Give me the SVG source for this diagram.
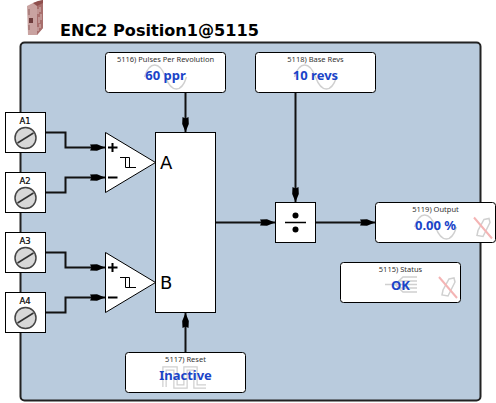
<svg xmlns="http://www.w3.org/2000/svg" width="496" height="403" viewBox="0 0 496 403">
<style>
.box{fill:#fff;stroke:#000;stroke-width:1}
.lbl{font-family:"Noto Sans",sans-serif;font-size:7.5px;fill:#333;text-anchor:middle}
.val{font-family:"Noto Sans",sans-serif;font-size:13px;font-weight:bold;fill:#1a44c8;text-anchor:middle}
.term{font-family:"DejaVu Sans",sans-serif;font-size:8.5px;fill:#000;stroke:#000;stroke-width:.2;text-anchor:middle}
.port{font-family:"DejaVu Sans",sans-serif;font-size:18px;fill:#000}
.wire{fill:none;stroke:#111;stroke-width:2}
.wm{fill:none;stroke:#d0d0d0;stroke-width:1.5}
.red{fill:none;stroke:#f4b4b4;stroke-width:2}
.scr{fill:#d8d8d8;stroke:#444;stroke-width:1.5}
.sym{fill:none;stroke:#000;stroke-width:1}
.sgn{fill:none;stroke:#000;stroke-width:2}
</style>
<defs>
<marker id="arr" markerUnits="userSpaceOnUse" markerWidth="16" markerHeight="9" refX="15" refY="4.5" orient="auto">
<path d="M0 1.500L7 1.200L15 4.500L7 7.800L0 7.500L1.500 4.500Z" fill="#000"/>
</marker>
<g id="sine"><path class="wm" d="M-21 0C-16 -16 -6 -16 0 0C6 16 16 16 21 0"/></g>
<g id="pen"><path class="wm" d="M1 -8L6 -9L7 -5L0 9L-6 8L-5 3Z"/><path class="red" d="M-9 -10L9 11"/></g>
<g id="screw"><circle r="10.5" class="scr"/><path d="M-8 5L8 -5" stroke="#333" stroke-width="1.5"/></g>
</defs>
<rect width="496" height="403" fill="#fff"/>
<g id="header">
<path d="M27 6L33 3L43 0V28L37 35H28Z" fill="#c9a3a1"/>
<path d="M37 4L43 0V28L37 35Z" fill="#a86f6d"/>
<path d="M33 3L38 1L43 0V3L37 6Z" fill="#8f4f4d"/>
<rect x="29" y="18" width="4" height="5" fill="#6e3c3c"/>
<path d="M29 9V15M29 25V30" stroke="#8f5f5d" stroke-width="1"/>
<path d="M38 9V14M40 7V12M39 17V23M41 14V20M38 27V31M40 24V28" stroke="#d9bcba" stroke-width="1"/>
<text x="60" y="36" font-family="'DejaVu Sans',sans-serif" font-size="16.1" font-weight="bold" fill="#000">ENC2 Position1@5115</text>
</g>
<rect id="panel" x="20.5" y="42.5" width="460" height="358" rx="4" fill="#b9cbdd" stroke="#222" stroke-width="2"/>
<g id="connectors">
<path class="wire" d="M45 132.5H65.5V147.5H105" marker-end="url(#arr)"/>
<path class="wire" d="M45 192.5H65.5V177.5H105" marker-end="url(#arr)"/>
<path class="wire" d="M45 252.5H65.5V267.5H105" marker-end="url(#arr)"/>
<path class="wire" d="M45 312.5H65.5V297.5H105" marker-end="url(#arr)"/>
<path class="wire" d="M185.5 93V132" marker-end="url(#arr)"/>
<path class="wire" d="M185.5 352V313" marker-end="url(#arr)"/>
<path class="wire" d="M295.5 93V202" marker-end="url(#arr)"/>
<path class="wire" d="M216 222.5H275" marker-end="url(#arr)"/>
<path class="wire" d="M316 222.5H375" marker-end="url(#arr)"/>
</g>
<g id="A1"><rect class="box" x="5.5" y="112.5" width="40" height="40"/><text class="term" x="25" y="124">A1</text><use href="#screw" x="25.5" y="138"/></g>
<g id="A2"><rect class="box" x="5.5" y="172.5" width="40" height="40"/><text class="term" x="25" y="184">A2</text><use href="#screw" x="25.5" y="198"/></g>
<g id="A3"><rect class="box" x="5.5" y="232.5" width="40" height="40"/><text class="term" x="25" y="244">A3</text><use href="#screw" x="25.5" y="258"/></g>
<g id="A4"><rect class="box" x="5.5" y="292.5" width="40" height="40"/><text class="term" x="25" y="304">A4</text><use href="#screw" x="25.5" y="318"/></g>
<g id="compA"><path class="box" d="M105.5 132.5L155.5 162.5L105.5 192.5Z"/>
<path class="sgn" d="M108 147.5H117.500M112.500 143V152M108 177.500H117.500"/>
<path class="sym" d="M120 157.500H129.500V167.500M125.500 157.500V167.500H136"/></g>
<g id="compB"><path class="box" d="M105.5 252.5L155.5 282.5L105.5 312.5Z"/>
<path class="sgn" d="M108 267.5H117.500M112.500 263V272M108 297.500H117.500"/>
<path class="sym" d="M120 277.500H129.500V287.500M125.500 277.500V287.500H136"/></g>
<g id="block"><rect class="box" x="155.5" y="132.5" width="60" height="180"/>
<text class="port" x="160" y="169">A</text><text class="port" x="160" y="289">B</text></g>
<g id="divide"><rect class="box" x="275.5" y="202.5" width="40" height="40"/>
<path d="M285 222.5H306" stroke="#000" stroke-width="1.5"/><circle cx="295.5" cy="215.5" r="3"/><circle cx="295.5" cy="229.5" r="3"/></g>
<g id="n5116"><rect class="box" x="105.5" y="52.5" width="120" height="40" rx="3"/><use href="#sine" x="165.5" y="77"/><text class="lbl" x="165.500" y="62">5116) Pulses Per Revolution</text><text class="val" x="165.500" y="80">60 ppr</text></g>
<g id="n5118"><rect class="box" x="255.5" y="52.5" width="120" height="40" rx="3"/><use href="#sine" x="315.5" y="77"/><text class="lbl" x="315.500" y="62">5118) Base Revs</text><text class="val" x="315.500" y="80">10 revs</text></g>
<g id="n5119"><rect class="box" x="375.5" y="202.5" width="120" height="40" rx="3"/><use href="#sine" x="435.5" y="227"/><use href="#pen" x="483" y="227.500"/><text class="lbl" x="435.500" y="212">5119) Output</text><text class="val" x="435.500" y="230">0.00 %</text></g>
<g id="n5115"><rect class="box" x="340.5" y="262.5" width="120" height="40" rx="3"/>
<path class="wm" d="M385 284.500H417M395 284.500L403 277H417M398 281H417M398 288H417M395 284.500L403 292H417"/>
<use href="#pen" x="448" y="287"/><text class="lbl" x="400.500" y="272">5115) Status</text><text class="val" x="400.500" y="290">OK</text></g>
<g id="n5117"><rect class="box" x="125.5" y="352.5" width="120" height="40" rx="3"/>
<path d="M164.500 387V368.500H175.500V386.500H185.500V368.500H195.500V386.500H206" fill="none" stroke="#cfcfcf" stroke-width="4.500"/>
<path d="M164.500 387V368.500H175.500V386.500H185.500V368.500H195.500V386.500H206" fill="none" stroke="#fff" stroke-width="2"/>
<text class="lbl" x="185.500" y="362">5117) Reset</text><text class="val" x="185.500" y="380">Inactive</text></g>
</svg>
